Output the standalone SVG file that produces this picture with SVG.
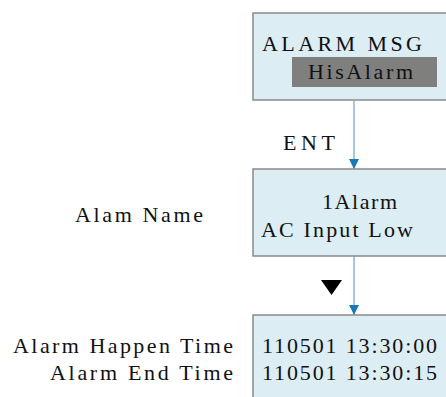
<svg xmlns="http://www.w3.org/2000/svg" width="446" height="397" viewBox="0 0 446 397">
<defs>
<style>
.box{fill:#dcedf4;stroke:#8a8a8a;stroke-width:1.5}
.t{font-family:"Liberation Serif","Times New Roman",serif;font-size:22px;fill:#111}
.ln{stroke:#6aa3cc;stroke-width:1.2;fill:none}
</style>
<marker id="ah" viewBox="0 0 10 10" refX="10" refY="5" markerWidth="10" markerHeight="10" markerUnits="userSpaceOnUse" orient="auto">
<path d="M0,0 L10,5 L0,10 z" fill="#1a78b8"/>
</marker>
</defs>
<rect width="446" height="397" fill="#fff"/>
<g id="connectors">
<path class="ln" d="M354,101 V169" marker-end="url(#ah)"/>
<path class="ln" d="M354,256 V315" marker-end="url(#ah)"/>
<path d="M321,280 L342,280 L331.5,295 z" fill="#000"/>
<text class="t" x="283" y="150" textLength="52" lengthAdjust="spacing">ENT</text>
</g>
<g id="node-msg">
<rect class="box" x="253" y="13" width="210" height="87"/>
<text class="t" x="262" y="51" textLength="160" lengthAdjust="spacing">ALARM MSG</text>
<rect x="292" y="57" width="145" height="30" fill="#7f807e"/>
<text class="t" x="308" y="79" textLength="105" lengthAdjust="spacing">HisAlarm</text>
</g>
<g id="node-alarm">
<rect class="box" x="253" y="169" width="210" height="87"/>
<text class="t" x="322" y="209" textLength="75" lengthAdjust="spacing">1Alarm</text>
<text class="t" x="261" y="237" textLength="152" lengthAdjust="spacing">AC Input Low</text>
</g>
<g id="label-name">
<text class="t" x="75" y="222" textLength="128" lengthAdjust="spacing">Alam Name</text>
</g>
<g id="node-time">
<rect class="box" x="253" y="315" width="210" height="95"/>
<text class="t" x="262" y="353" textLength="175" lengthAdjust="spacing">110501 13:30:00</text>
<text class="t" x="262" y="380" textLength="175" lengthAdjust="spacing">110501 13:30:15</text>
</g>
<g id="label-times">
<text class="t" x="13" y="353" textLength="220" lengthAdjust="spacing">Alarm Happen Time</text>
<text class="t" x="50" y="380" textLength="183" lengthAdjust="spacing">Alarm End Time</text>
</g>
</svg>
